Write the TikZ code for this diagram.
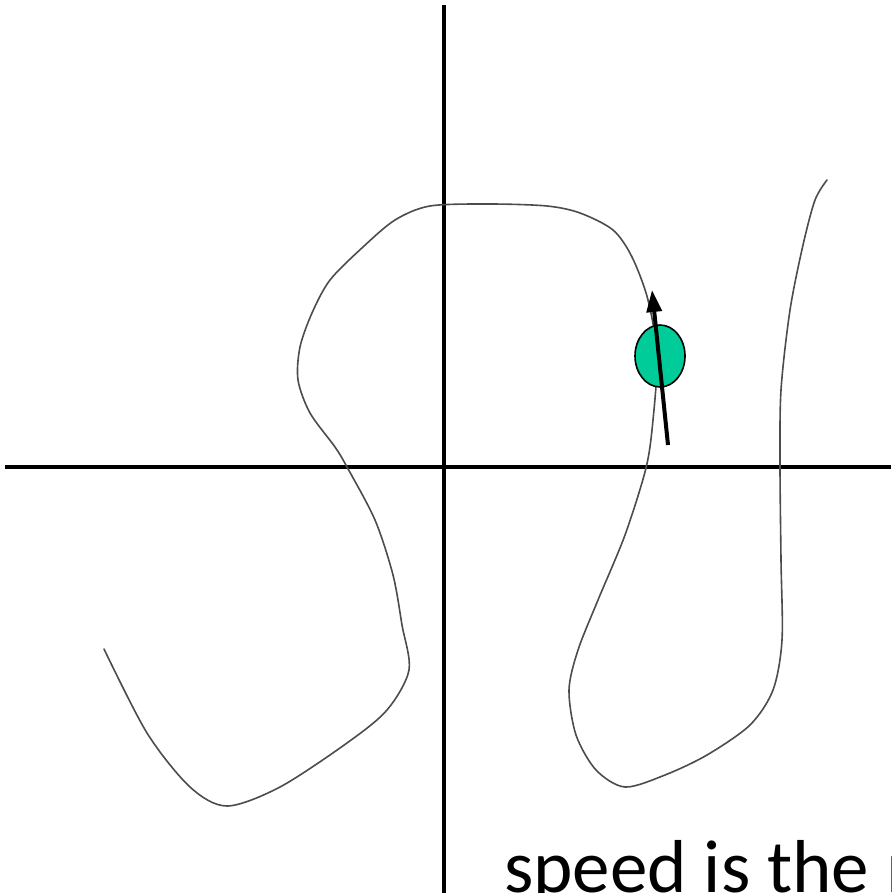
\documentclass[tikz,border=0pt]{standalone}
\usepackage{fontspec}
\setmainfont{Carlito}
\usetikzlibrary{arrows.meta,shapes.geometric}
\definecolor{ballgreen}{HTML}{00CC99}
\tikzset{
  axis/.style={line width=4pt, black},
  path curve/.style={line width=1.6pt, black!70, line cap=round},
  ball/.style={ellipse, draw=black, line width=1.6pt, fill=ballgreen, minimum width=50pt, minimum height=62pt, inner sep=0pt},
  velocity/.style={line width=4pt, -{Triangle[length=22pt,width=15pt]}},
  caption/.style={font=\fontsize{75}{90}\selectfont, anchor=base west, inner sep=0pt}
}
\begin{document}
\begin{tikzpicture}[x=1pt,y=-1pt]
\useasboundingbox (0,0) rectangle (891,893);
\clip (0,0) rectangle (891,893);
% axes
\coordinate (ytop) at (443.5,5);
\coordinate (ybot) at (443.5,893);
\coordinate (xleft) at (5,466.5);
\coordinate (xright) at (891,466.5);
\draw[axis] (ytop) -- (ybot);
\draw[axis] (xleft) -- (xright);
% trajectory
\draw[path curve] plot[smooth, tension=0.5] coordinates {
 (104,649) (147,733) (190,787) (227,806) (280,787) (347,743) (387,710)
 (409,670) (402,625) (393,575) (375,520) (347,467) (335,447) (310,413)
 (298,380) (300,347) (312,313) (330,280) (363,247) (395,220) (430,206)
 (490,204) (547,206) (580,213) (613,230) (632,257) (648,300) (657,356)
 (653,420) (646,468) (625,535) (598,600) (578,650) (569,690) (576,735)
 (596,770) (625,787) (665,775) (707,755) (750,725) (773,690) (782,640)
 (781,560) (780,466) (781,390) (790,310) (803,245) (815,200) (827,180)};
% particle and velocity
\node[ball] (ball) at (660,356) {};
\coordinate (vstart) at (668,445);
\coordinate (vend) at (652,290);
\draw[velocity] (vstart) -- (vend);
% caption
\node[caption] (cap) at (504,892) {speed is the m};
\end{tikzpicture}
\end{document}
